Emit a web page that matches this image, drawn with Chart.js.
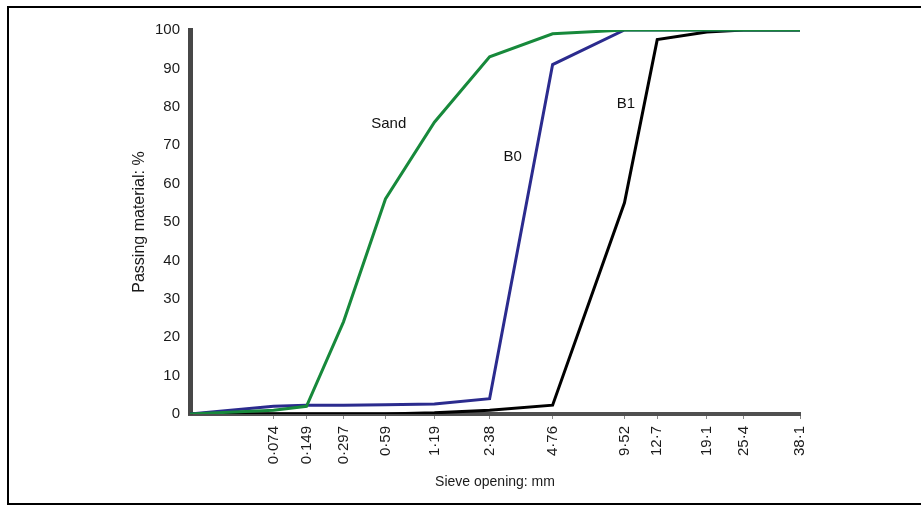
<!DOCTYPE html>
<html>
<head>
<meta charset="utf-8">
<title>Sieve analysis</title>
<script src="https://cdn.jsdelivr.net/npm/chart.js@4.4.1/dist/chart.umd.min.js"></script>
<style>
    html, body { margin: 0; padding: 0; background: #fff; overflow: hidden; }
    #wrap { position: relative; width: 921px; height: 505px; }
    #frame {
        position: absolute; left: 7px; top: 6px; width: 916px; height: 499px;
        border: 2px solid #000; box-sizing: border-box; pointer-events: none;
    }
    canvas { position: absolute; left: 0; top: 0; }
</style>
</head>
<body>
<div id="wrap">
    <canvas id="myChart" width="921" height="505"></canvas>
    <div id="frame"></div>
</div>
<script>
/* global Chart */

// sieve openings in mm (first one is the pan / origin of the chart)
const sieves = [0.007, 0.074, 0.149, 0.297, 0.59, 1.19, 2.38, 4.76, 9.52, 12.7, 19.1, 25.4, 38.1];
const sieveLabels = ['0·074', '0·149', '0·297', '0·59', '1·19', '2·38', '4·76', '9·52', '12·7', '19·1', '25·4', '38·1'];

// passing material, %
const sand = [0, 1, 2, 24, 56, 76, 93, 99, 100, 100, 100, 100, 100];
const b0 = [0, 2, 2.3, 2.3, 2.4, 2.6, 4, 91, 100, 100, 100, 100, 100];
const b1 = [0, 0, 0, 0, 0, 0.3, 1, 2.3, 55, 97.5, 99.5, 100, 100];

// curve names written next to the curves: [text, sieve mm, passing %]
const curveNames = [
    ['Sand', 0.62, 75.5],
    ['B0', 3.1, 67],
    ['B1', 9.65, 80.7],
];

const EXPONENT = 0.19;

// x axis of the grading chart is a power scale (opening ^ 0.19)
const LinearScale = Chart.LinearScale || Chart.registry.getScale('linear');
class PowerScale extends LinearScale {
    getPixelForValue(value) {
        const start = Math.pow(this.min, EXPONENT);
        const end = Math.pow(this.max, EXPONENT);
        return this.getPixelForDecimal((Math.pow(value, EXPONENT) - start) / (end - start));
    }
    getValueForPixel(pixel) {
        const start = Math.pow(this.min, EXPONENT);
        const end = Math.pow(this.max, EXPONENT);
        return Math.pow(start + this.getDecimalForPixel(pixel) * (end - start), 1 / EXPONENT);
    }
}
PowerScale.id = 'power';
PowerScale.defaults = LinearScale.defaults;
Chart.register(PowerScale);

const toPoints = (vals) => sieves.map((s, i) => ({ x: s, y: vals[i] }));

const family = '"Liberation Sans", Arial, sans-serif';
const tickFont = { family: family, size: 15 };

const curveLabels = {
    id: 'curveLabels',
    afterDatasetsDraw: (chart) => {
        const ctx = chart.ctx;
        const { x, y } = chart.scales;
        ctx.save();
        ctx.font = '15px ' + family;
        ctx.fillStyle = '#111';
        ctx.textAlign = 'center';
        ctx.textBaseline = 'middle';
        curveNames.forEach(([text, mm, pct]) => {
            ctx.fillText(text, x.getPixelForValue(mm), y.getPixelForValue(pct));
        });
        ctx.restore();
    }
};

const myChart = new Chart(document.getElementById('myChart'), {
    type: 'line',
    data: {
        datasets: [
            { label: 'Sand', data: toPoints(sand), borderColor: '#17893b', borderWidth: 3, pointRadius: 0, tension: 0 },
            { label: 'B0', data: toPoints(b0), borderColor: '#2b2b8e', borderWidth: 3, pointRadius: 0, tension: 0 },
            { label: 'B1', data: toPoints(b1), borderColor: '#000000', borderWidth: 3, pointRadius: 0, tension: 0 },
        ]
    },
    options: {
        responsive: false,
        animation: false,
        events: [],
        layout: { padding: { left: 127, right: 121, top: 30, bottom: 10 } },
        plugins: {
            legend: { display: false },
            tooltip: { enabled: false },
        },
        scales: {
            x: {
                type: 'power',
                min: sieves[0],
                max: sieves[sieves.length - 1],
                afterBuildTicks: (scale) => {
                    scale.ticks = sieves.slice(1).map(v => ({ value: v }));
                },
                afterFit: (scale) => { scale.height = 81; },
                ticks: {
                    minRotation: 90,
                    maxRotation: 90,
                    autoSkip: false,
                    padding: 7,
                    color: '#1a1a1a',
                    font: tickFont,
                    callback: (value, index) => sieveLabels[index],
                },
                grid: { drawOnChartArea: false, drawTicks: true, tickLength: 5, color: '#888' },
                border: { display: true, color: '#505050', width: 4 },
                title: { display: true, text: 'Sieve opening: mm', color: '#1a1a1a', font: { family: family, size: 14 } },
            },
            y: {
                min: 0,
                max: 100,
                afterFit: (scale) => { scale.width = 63; },
                ticks: { stepSize: 10, padding: 10, color: '#1a1a1a', font: tickFont },
                grid: { display: false, drawTicks: false },
                border: { display: true, color: '#474747', width: 5 },
                title: { display: true, text: 'Passing material: %', color: '#1a1a1a', font: { family: family, size: 16 }, padding: { top: 3, bottom: 4 } },
            },
        },
    },
    plugins: [curveLabels],
});
</script>
</body>
</html>
